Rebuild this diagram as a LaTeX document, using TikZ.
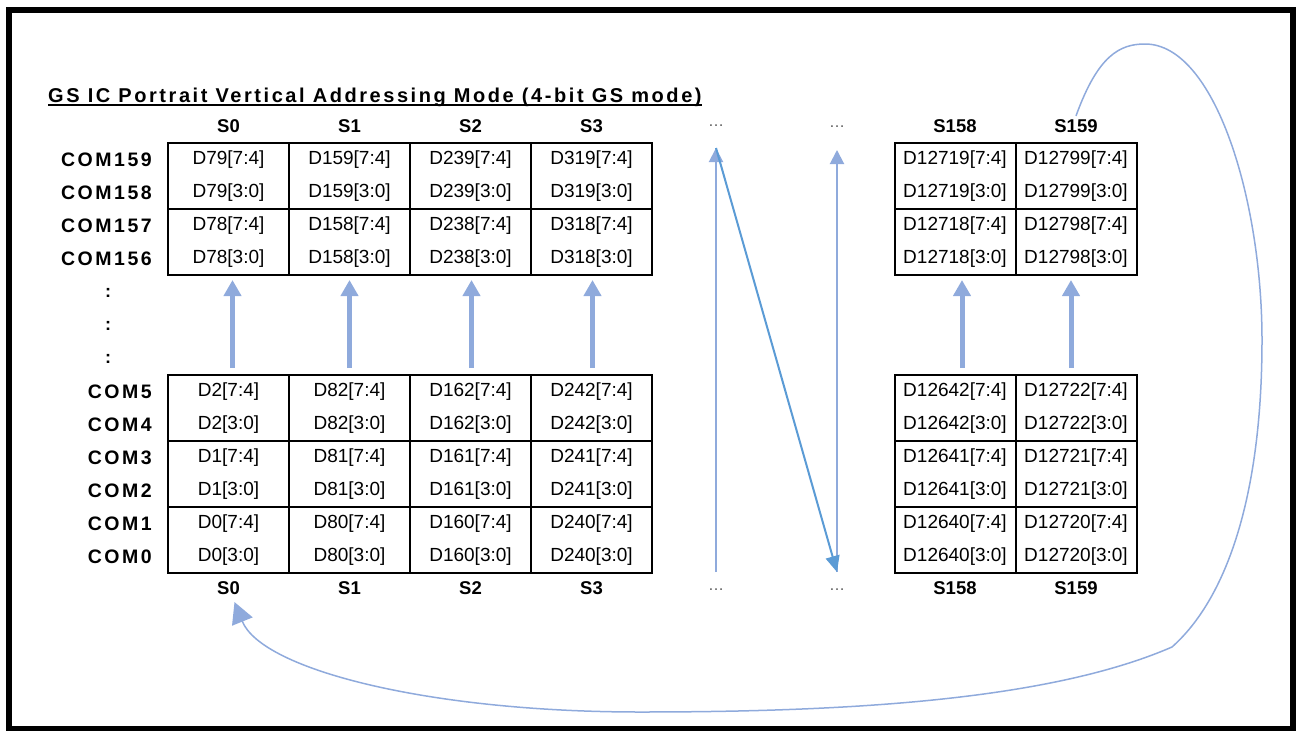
\documentclass[tikz,border=0pt]{standalone}
\usepackage{fontspec}
\setmainfont{Liberation Sans}
\newfontfamily\comfont[LetterSpace=13]{Liberation Sans}
\newfontfamily\titlefont[LetterSpace=12.8]{Liberation Sans}
\usetikzlibrary{arrows.meta}

\definecolor{arrowblue}{HTML}{8FAADC}
\definecolor{diagblue}{HTML}{5B9BD5}
\definecolor{dotgray}{HTML}{595959}

\tikzset{
	pairbox/.style={draw, line width=2pt, rectangle, minimum width=121pt, minimum height=66pt,
		inner sep=0pt, align=center, font=\fontsize{19}{33}\selectfont},
	colhead/.style={font=\bfseries\fontsize{18.5}{20}\selectfont},
	comlabel/.style={anchor=east, inner sep=0pt, font={\comfont\bfseries\fontsize{19.5}{22}\selectfont}},
	dotlabel/.style={text=dotgray, font=\fontsize{16}{18}\selectfont},
	uparrow/.style={arrowblue, line width=5pt, -{Triangle[width=17pt,length=16pt]},
		shorten <=6pt, shorten >=4pt},
	thinup/.style={arrowblue, line width=2pt, -{Triangle[width=14pt,length=14pt]}},
	diagarrow/.style={diagblue, line width=2pt, -{Triangle[width=14pt,length=16pt]}},
	loopline/.style={arrowblue, line width=1.5pt, -{Triangle[width=22pt,length=21pt]}}
}

\begin{document}
\begin{tikzpicture}[x=1pt, y=-1pt]
	\def\cellw{121}  % Width of one column
	\def\yhtop{126}  % Top row of column names
	\def\yhbot{588}  % Bottom row of column names
	
	\useasboundingbox (0,0) rectangle (1299,731);
	\draw[line width=6pt] (9,9.5) rectangle (1293,728.5);
	
	% Title
	\node[anchor=base west, inner sep=0pt, font={\titlefont\bfseries\fontsize{20}{22}\selectfont}]
		(title) at (48,102) {GS IC Portrait Vertical Addressing Mode (4-bit GS mode)};
	\draw[line width=2pt] ([yshift=-3pt]title.base west) -- ([yshift=-3pt]title.base east);
	
	% Columns: segment / x of the column centre / shift of its arrow
	\foreach \s/\x/\ax in {0/228.5/4, 1/349.5/0, 2/470.5/1, 3/591.5/1, 158/955/7, 159/1076/-5} {
		\node[colhead] (hdtop-\s) at (\x,\yhtop) {S\s};
		\node[colhead] (hdbot-\s) at (\x,\yhbot) {S\s};
		% Two COM rows in each box
		\foreach \r/\y in {79/176, 78/242, 2/408, 1/474, 0/540} {
			\pgfmathtruncatemacro{\d}{80*\s + \r}
			\node[pairbox] (cell-\s-\r) at (\x,\y) {D\d[7:4]\\D\d[3:0]};
		}
		\draw[uparrow] ([xshift=\ax pt]cell-\s-2.north) -- ([xshift=\ax pt]cell-\s-78.south);
	}
	
	% COM names
	\foreach \c/\y in {159/159.5, 158/192.5, 157/225.5, 156/258.5,
		5/391.5, 4/424.5, 3/457.5, 2/490.5, 1/523.5, 0/556.5} {
		\node[comlabel] (com-\c) at (152,\y) {COM\c};
	}
	\foreach \k/\y in {1/293, 2/326, 3/359} {
		\node[font=\bfseries\fontsize{18}{20}\selectfont] (colon-\k) at (108,\y) {:};
	}
	
	% Skipped columns
	\node[dotlabel] (dots-a-top) at (716,126) {\dots};
	\node[dotlabel] (dots-b-top) at (837,127) {\dots};
	\node[dotlabel] (dots-a-bot) at (716,590) {\dots};
	\node[dotlabel] (dots-b-bot) at (837,590) {\dots};
	\coordinate (skipa-bot) at (716,572);
	\coordinate (skipa-top) at (716,148);
	\coordinate (skipb-bot) at (837,572);
	\coordinate (skipb-top) at (837,150);
	\draw[thinup] (skipa-bot) -- (skipa-top);
	\draw[thinup] (skipb-bot) -- (skipb-top);
	\draw[diagarrow] (skipa-top) -- (skipb-bot);
	
	% Back to S0
	\draw[loopline] (hdtop-159.north) .. controls (1098,55) and (1120,44) .. (1145,44)
		.. controls (1215,44) and (1262,200) .. (1262,340)
		.. controls (1262,500) and (1225,600) .. (1172,647)
		.. controls (1050,700) and (850,712) .. (640,712)
		.. controls (430,712) and (262,670) .. ([xshift=6pt,yshift=-4pt]hdbot-0.south);
\end{tikzpicture}
\end{document}
